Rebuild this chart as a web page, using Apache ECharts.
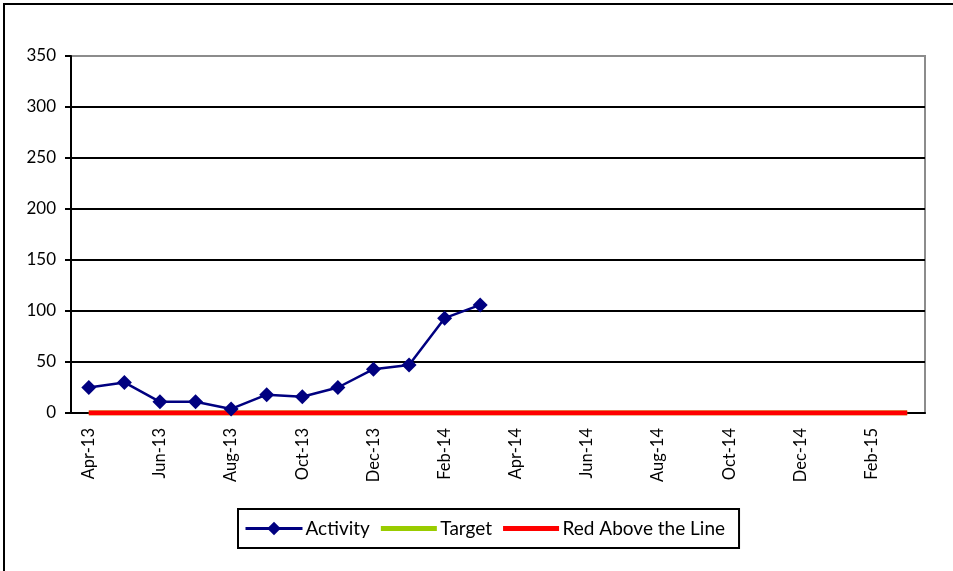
<!DOCTYPE html>
<html>
<head>
<meta charset="utf-8">
<script src="https://cdn.jsdelivr.net/npm/echarts@6/dist/echarts.min.js"></script>
<style>
  html, body { margin: 0; padding: 0; background: #fff; overflow: hidden; }
  #chart { position: absolute; left: 0; top: 0; width: 953px; height: 571px; }
  #frame {
    position: absolute; left: 3px; top: 3px; width: 960px; height: 580px;
    border-left: 2px solid #000; border-top: 2px solid #000; pointer-events: none;
  }
</style>
</head>
<body>
<div id="chart"></div>
<div id="frame"></div>
<script>
const months = [
  'Apr-13', 'May-13', 'Jun-13', 'Jul-13', 'Aug-13', 'Sep-13', 'Oct-13', 'Nov-13',
  'Dec-13', 'Jan-14', 'Feb-14', 'Mar-14', 'Apr-14', 'May-14', 'Jun-14', 'Jul-14',
  'Aug-14', 'Sep-14', 'Oct-14', 'Nov-14', 'Dec-14', 'Jan-15', 'Feb-15', 'Mar-15'
]
const activity = [25, 30, 11, 11, 4, 18, 16, 25, 43, 47, 93, 106]
const target = [0, 0, 0, 0, 0, 0, 0, 0, 0, 0, 0, 0, 0, 0, 0, 0, 0, 0, 0, 0, 0, 0, 0, 0]
const redLine = [0, 0, 0, 0, 0, 0, 0, 0, 0, 0, 0, 0, 0, 0, 0, 0, 0, 0, 0, 0, 0, 0, 0, 0]

const font = 'Lato, "Open Sans", sans-serif'
// thick bar icon for the legend, with empty space above and below
const barIcon = 'path://M0 0M0 6H56V11H0Z M56 17'

const chart = echarts.init(document.getElementById('chart'))

chart.setOption({
  animation: false,
  textStyle: { fontFamily: font },
  grid: {
    left: 71, right: 28, top: 56, bottom: 158,
    show: true, borderColor: '#8c8c8c', borderWidth: 2, backgroundColor: 'transparent'
  },
  legend: {
    top: 509,
    left: 238,
    data: [
      { name: 'Activity', lineStyle: { width: 3 } },
      { name: 'Target', icon: barIcon, itemStyle: { color: '#99cc00', borderWidth: 0 } },
      { name: 'Red Above the Line', icon: barIcon, itemStyle: { color: '#ff0000', borderWidth: 0 } }
    ],
    borderColor: '#000',
    borderWidth: 2,
    padding: [10, 14, 10, 6],
    itemGap: 11,
    itemWidth: 57,
    itemHeight: 17,
    textStyle: { color: '#000', fontSize: 19, fontFamily: font, padding: [0, 0, 0, -2] }
  },
  xAxis: {
    type: 'category',
    data: months,
    boundaryGap: true,
    axisLine: { lineStyle: { color: '#000', width: 2 } },
    axisTick: { interval: 1, length: 6, lineStyle: { color: '#000', width: 2 } },
    axisLabel: { interval: 1, rotate: 90, color: '#000', fontSize: 16.5, margin: 15 },
    splitLine: { show: false }
  },
  yAxis: {
    type: 'value',
    min: 0, max: 350, interval: 50,
    axisLine: { show: true, lineStyle: { color: '#000', width: 2 } },
    axisTick: { show: true, length: 6, lineStyle: { color: '#000', width: 2 } },
    axisLabel: { color: '#000', fontSize: 17, margin: 15 },
    splitLine: { show: true, showMaxLine: false, lineStyle: { color: '#000', width: 2 } }
  },
  series: [
    {
      name: 'Target',
      type: 'line',
      data: target,
      symbol: 'none',
      lineStyle: { color: '#99cc00', width: 5 },
      itemStyle: { color: '#99cc00' },
      z: 2
    },
    {
      name: 'Red Above the Line',
      type: 'line',
      data: redLine,
      symbol: 'none',
      lineStyle: { color: '#ff0000', width: 5 },
      itemStyle: { color: '#ff0000' },
      z: 3
    },
    {
      name: 'Activity',
      type: 'line',
      data: activity,
      symbol: 'diamond',
      symbolSize: 15,
      lineStyle: { color: '#000080', width: 2.5 },
      itemStyle: { color: '#000080' },
      z: 4
    }
  ]
})
</script>
</body>
</html>
